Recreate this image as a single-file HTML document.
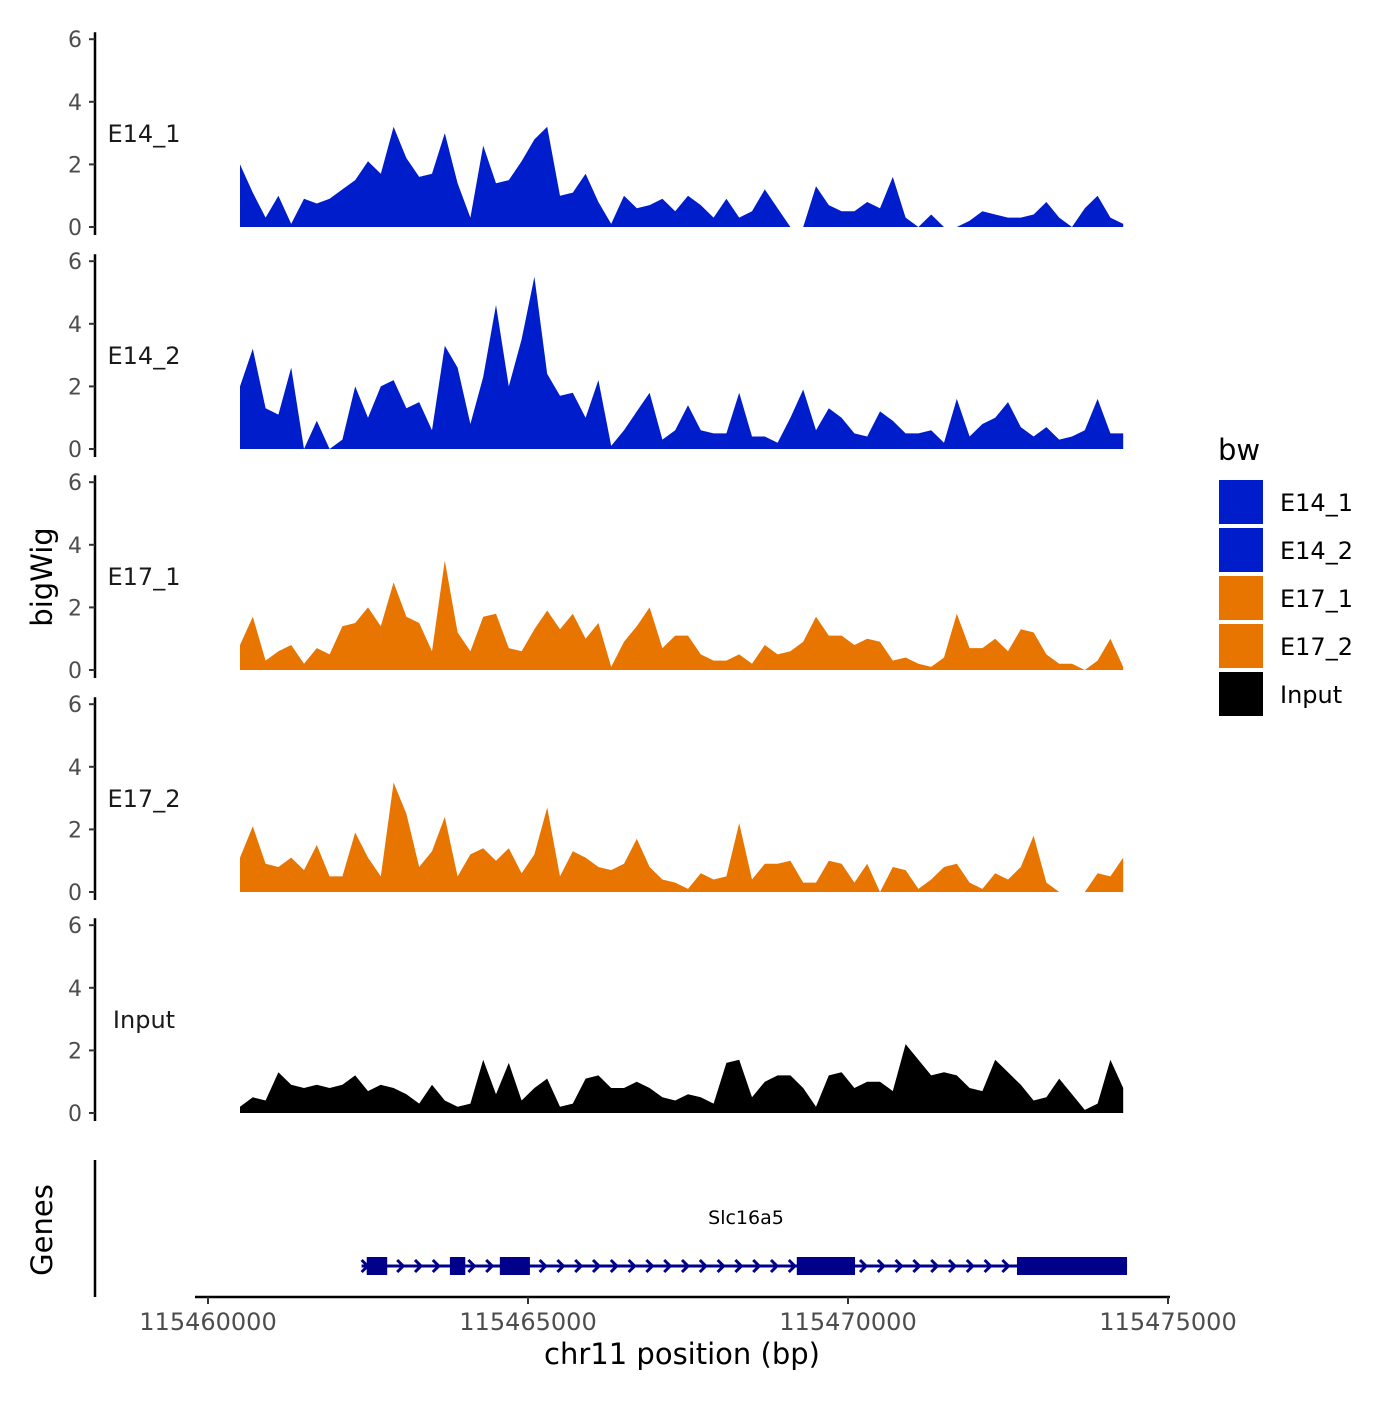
<!DOCTYPE html>
<html><head><meta charset="utf-8"><style>
body{margin:0;background:#fff}
svg text{font-family:"DejaVu Sans","Liberation Sans",sans-serif}
</style></head><body>
<svg id="c" width="1400" height="1400" viewBox="0 0 1400 1400" xmlns="http://www.w3.org/2000/svg">
<rect width="1400" height="1400" fill="#fff"/>
<g id="tracks"></g>
<g id="genes"></g>
<g id="xaxis"></g>
<text x="52" y="577" font-size="29" text-anchor="middle" transform="rotate(-90 52 577)">bigWig</text>
<text x="52" y="1230" font-size="29" text-anchor="middle" transform="rotate(-90 52 1230)">Genes</text>
<text x="682" y="1364" font-size="29" text-anchor="middle">chr11 position (bp)</text>
<g id="legend"></g>
</svg>
<script>
const startBp = 115460500;
const stepBp = 200;
const trackNames = ["E14_1","E14_2","E17_1","E17_2","Input"];
const e14_1 = [2.0,1.1,0.3,1.0,0.1,0.9,0.75,0.9,1.2,1.5,2.1,1.7,3.2,2.2,1.6,1.7,3.0,1.4,0.3,2.6,1.4,1.5,2.1,2.8,3.2,1.0,1.1,1.7,0.8,0.1,1.0,0.6,0.7,0.9,0.5,1.0,0.7,0.3,0.9,0.3,0.5,1.2,0.6,0.0,0.0,1.3,0.7,0.5,0.5,0.8,0.6,1.6,0.3,0.0,0.4,0.0,0.0,0.2,0.5,0.4,0.3,0.3,0.4,0.8,0.3,0.0,0.6,1.0,0.3,0.1];
const e14_2 = [2.0,3.2,1.3,1.1,2.6,0.0,0.9,0.0,0.3,2.0,1.0,2.0,2.2,1.3,1.5,0.6,3.3,2.6,0.8,2.3,4.6,2.0,3.5,5.5,2.4,1.7,1.8,1.0,2.2,0.1,0.6,1.2,1.8,0.3,0.6,1.4,0.6,0.5,0.5,1.8,0.4,0.4,0.2,1.0,1.9,0.6,1.3,1.0,0.5,0.4,1.2,0.9,0.5,0.5,0.6,0.2,1.6,0.4,0.8,1.0,1.5,0.7,0.4,0.7,0.3,0.4,0.6,1.6,0.5,0.5];
const e17_1 = [0.8,1.7,0.3,0.6,0.8,0.2,0.7,0.5,1.4,1.5,2.0,1.4,2.8,1.7,1.5,0.6,3.5,1.2,0.6,1.7,1.8,0.7,0.6,1.3,1.9,1.3,1.8,1.0,1.5,0.1,0.9,1.4,2.0,0.7,1.1,1.1,0.5,0.3,0.3,0.5,0.2,0.8,0.5,0.6,0.9,1.7,1.1,1.1,0.8,1.0,0.9,0.3,0.4,0.2,0.1,0.4,1.8,0.7,0.7,1.0,0.6,1.3,1.2,0.5,0.2,0.2,0.0,0.3,1.0,0.1];
const e17_2 = [1.1,2.1,0.9,0.8,1.1,0.7,1.5,0.5,0.5,1.9,1.1,0.5,3.5,2.5,0.8,1.3,2.4,0.5,1.2,1.4,1.0,1.4,0.6,1.2,2.7,0.5,1.3,1.1,0.8,0.7,0.9,1.7,0.8,0.4,0.3,0.1,0.6,0.4,0.5,2.2,0.4,0.9,0.9,1.0,0.3,0.3,1.0,0.9,0.3,0.9,0.0,0.8,0.7,0.1,0.4,0.8,0.9,0.3,0.1,0.6,0.4,0.8,1.8,0.3,0.0,0.0,0.0,0.6,0.5,1.1];
const input = [0.2,0.5,0.4,1.3,0.9,0.8,0.9,0.8,0.9,1.2,0.7,0.9,0.8,0.6,0.3,0.9,0.4,0.2,0.3,1.7,0.6,1.6,0.4,0.8,1.1,0.2,0.3,1.1,1.2,0.8,0.8,1.0,0.8,0.5,0.4,0.6,0.5,0.3,1.6,1.7,0.5,1.0,1.2,1.2,0.8,0.2,1.2,1.3,0.8,1.0,1.0,0.7,2.2,1.7,1.2,1.3,1.2,0.8,0.7,1.7,1.3,0.9,0.4,0.5,1.1,0.6,0.1,0.3,1.7,0.8];
const yTicks = [0,2,4,6];
const xTicks = [115460000,115465000,115470000,115475000];
const exonStarts = [115462480,115463780,115464560,115469200,115472640];
const exonEnds = [115462800,115464020,115465030,115470110,115474360];
const geneStart = 115462400, geneEnd = 115474360;

const NS="http://www.w3.org/2000/svg";
function mk(tag, attrs, parent){const e=document.createElementNS(NS,tag);for(const k in attrs)e.setAttribute(k,attrs[k]);parent.appendChild(e);return e;}
const xs = bp => 208 + (bp-115460000)*0.064;
const series = [e14_1,e14_2,e17_1,e17_2,input];
const colors = ["#001DCC","#001DCC","#E87500","#E87500","#000000"];
const zeros = [227,449,670,892,1113];
const pxPerUnit = 31.3;
const tg = document.getElementById('tracks');
series.forEach((vals,t)=>{
  const y0 = zeros[t];
  const ys = v => y0 - v*pxPerUnit;
  const g = mk('g',{},tg);
  
  
  let d = 'M'+xs(startBp)+','+y0;
  vals.forEach((v,i)=>{d+=' L'+xs(startBp+i*stepBp).toFixed(1)+','+ys(v).toFixed(1);});
  d+=' L'+xs(startBp+(vals.length-1)*stepBp).toFixed(1)+','+y0+' Z';
  const p = mk('path',{d:d,fill:colors[t]},g);
  
  
  const ax = mk('line',{x1:95,x2:95,y1:ys(6)-7,y2:y0+8,stroke:'#000','stroke-width':2.5},g);
  
  
  yTicks.forEach(v=>{
    mk('line',{x1:89,x2:95,y1:ys(v),y2:ys(v),stroke:'#333','stroke-width':2},g);
    const tx = mk('text',{x:82,y:ys(v)+8,'font-size':22,'text-anchor':'end',fill:'#4d4d4d'},g);
    tx.textContent = v;
    
    
  });
  const lb = mk('text',{x:144,y:(y0+ys(6))/2+9,'font-size':24,'text-anchor':'middle',fill:'#1a1a1a'},g);
  lb.textContent = trackNames[t];
  
  
});
// genes
const gg = document.getElementById('genes');
mk('line',{x1:95,x2:95,y1:1160,y2:1297,stroke:'#000','stroke-width':2.5},gg);
const gy = 1266;
mk('line',{x1:xs(geneStart),x2:xs(geneEnd),y1:gy,y2:gy,stroke:'#00008B','stroke-width':3},gg);
for(let x=xs(geneStart); x<xs(geneEnd)-8; x+=17.8){
  mk('path',{d:`M${x},${gy-6} L${x+6},${gy} L${x},${gy+6}`,fill:'none',stroke:'#00008B','stroke-width':3},gg);
}
exonStarts.forEach((s,i)=>{
  const r = mk('rect',{x:xs(s),y:gy-9,width:xs(exonEnds[i])-xs(s),height:18,fill:'#00008B'},gg);
  
  
});
const gl = mk('text',{x:746,y:1224,'font-size':19,'text-anchor':'middle',fill:'#000'},gg);
gl.textContent='Slc16a5';


// x axis
const xg = document.getElementById('xaxis');
mk('line',{x1:195,x2:1170,y1:1297,y2:1297,stroke:'#000','stroke-width':2.5},xg);
xTicks.forEach(v=>{
  mk('line',{x1:xs(v),x2:xs(v),y1:1297,y2:1304,stroke:'#333','stroke-width':2},xg);
  const tx = mk('text',{x:xs(v),y:1330,'font-size':24,'text-anchor':'middle',fill:'#4d4d4d'},xg);
  tx.textContent = v;
  
  
});
// legend
const lg = document.getElementById('legend');
const lt = mk('text',{x:1218,y:460,'font-size':29,fill:'#000'},lg);
lt.textContent='bw';


trackNames.forEach((n,i)=>{
  const y = 480 + i*48;
  const e = mk('g',{},lg);
  
  
  mk('rect',{x:1219,y:y,width:44,height:44,fill:colors[i]},e);
  const tx = mk('text',{x:1280,y:y+31,'font-size':24,fill:'#000'},e);
  tx.textContent = n;
});
</script>
</body></html>
